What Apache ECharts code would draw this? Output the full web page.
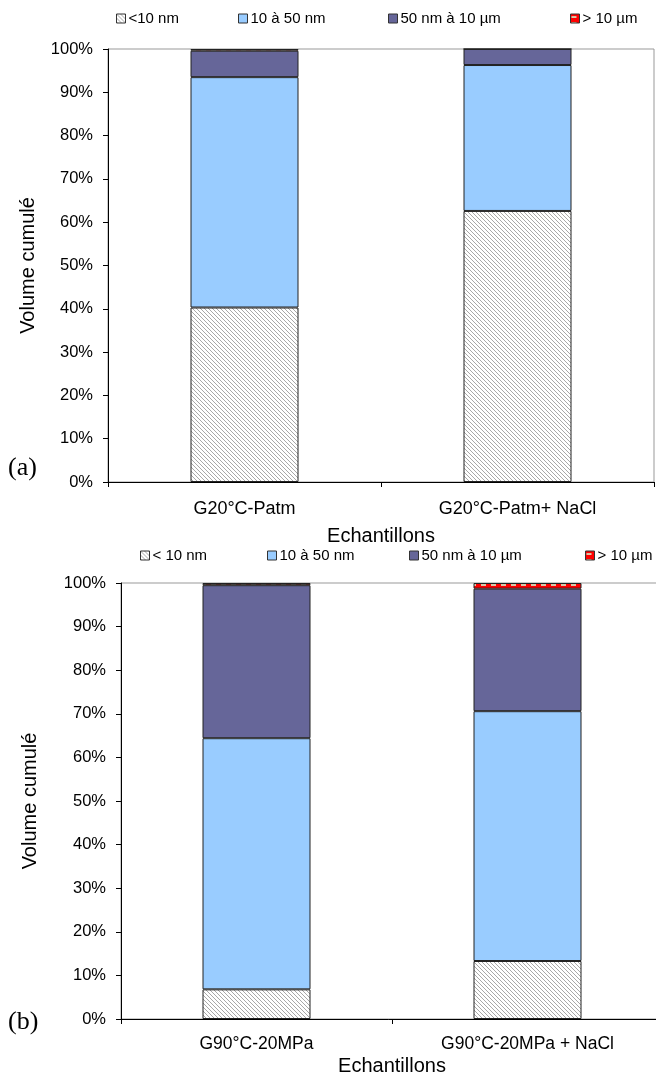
<!DOCTYPE html>
<html>
<head>
<meta charset="utf-8">
<script src="https://cdn.jsdelivr.net/npm/echarts@6/dist/echarts.min.js"></script>
<style>html,body{margin:0;padding:0;background:#fff}#c{width:656px;height:1077px}</style>
</head>
<body>
<div id="c"></div>
<script>
// ---- data ----
const catsA = ['G20°C-Patm', 'G20°C-Patm+ NaCl'];
const catsB = ['G90°C-20MPa', 'G90°C-20MPa + NaCl'];
const namesA = ['<10 nm', '10 à 50 nm', '50 nm à 10 µm', '> 10 µm'];
const namesB = ['< 10 nm', '10 à 50 nm', '50 nm à 10 µm', '> 10 µm'];
const a_lt10 = [40.3, 62.6];
const a_10_50 = [53.2, 33.7];
const a_50_10u = [6.1, 3.7];
const a_gt10u = [0.4, 0.0];
const b_lt10 = [6.8, 13.3];
const b_10_50 = [57.6, 57.3];
const b_50_10u = [35.1, 28.1];
const b_gt10u = [0.5, 1.3];
const yTicks = [0, 10, 20, 30, 40, 50, 60, 70, 80, 90, 100];

// ---- patterns ----
function hatch() {
  const s = 4, c = document.createElement('canvas');
  c.width = s; c.height = s;
  const g = c.getContext('2d');
  g.fillStyle = '#fff'; g.fillRect(0, 0, s, s);
  g.strokeStyle = '#a8a8a8'; g.lineWidth = 1;
  g.beginPath();
  g.moveTo(-1, -1); g.lineTo(s + 1, s + 1);
  g.moveTo(-1, s - 1); g.lineTo(1, s + 1);
  g.moveTo(s - 1, -1); g.lineTo(s + 1, 1);
  g.stroke();
  return c;
}
function redDash() {
  const c = document.createElement('canvas');
  c.width = 10; c.height = 6;
  const g = c.getContext('2d');
  g.fillStyle = '#ff0000'; g.fillRect(0, 0, 10, 6);
  g.fillStyle = '#d9c8a8'; g.fillRect(1, 2, 5, 2);
  return c;
}
const hatchFill = { image: hatch(), repeat: 'repeat' };
const redFill = { image: redDash(), repeat: 'repeat' };
const fills = [hatchFill, '#99ccff', '#666699', redFill];

const chart = echarts.init(document.getElementById('c'), null, { renderer: 'canvas' });
const F = 'Liberation Sans, Arial, sans-serif';

function mkSeries(names, datas, xi, stack) {
  return names.map((n, i) => ({
    name: n, type: 'bar', stack: stack, xAxisIndex: xi, yAxisIndex: xi,
    data: datas[i], barWidth: 108,
    itemStyle: { color: fills[i], borderColor: '#222', borderWidth: 1 },
    emphasis: { disabled: true }, animation: false
  }));
}

function mkLegends(names, xs, top) {
  return names.map((n, i) => ({
    data: [n], left: xs[i], top: top, padding: 0, itemWidth: 9, itemHeight: 9, itemGap: 0,
    icon: 'rect', selectedMode: false,
    textStyle: { fontFamily: F, fontSize: 15, color: '#000', padding: [0, 0, 0, -2] },
    itemStyle: { borderColor: '#333', borderWidth: 1 }
  }));
}

function yAx(gi, gap) {
  return {
    type: 'value', gridIndex: gi, min: 0, max: 100, interval: 10,
    name: 'Volume cumulé', nameLocation: 'middle', nameGap: gap,
    nameTextStyle: { fontFamily: F, fontSize: 20, color: '#000' },
    axisLine: { show: true, lineStyle: { color: '#000', width: 1 } },
    axisTick: { show: true, length: 5, lineStyle: { color: '#000' } },
    splitLine: { show: false },
    axisLabel: { fontFamily: F, fontSize: 16.5, color: '#000', margin: 15,
      formatter: v => yTicks.includes(v) ? v + '%' : '' }
  };
}
function xAx(gi, cats, gap, mar, fs) {
  return {
    type: 'category', gridIndex: gi, data: cats,
    name: 'Echantillons', nameLocation: 'middle', nameGap: gap,
    nameTextStyle: { fontFamily: F, fontSize: 20, color: '#000' },
    axisLine: { show: true, lineStyle: { color: '#000', width: 1 } },
    axisTick: { show: true, length: 5, lineStyle: { color: '#000' } },
    axisLabel: { fontFamily: F, fontSize: fs, color: '#000', margin: mar }
  };
}

chart.setOption({
  animation: false,
  backgroundColor: '#fff',
  grid: [
    { left: 108, top: 49, width: 546, height: 433, outerBoundsMode: 'none', containLabel: false,
      show: true, borderColor: '#999', borderWidth: 1 },
    { left: 121, top: 583, width: 542, height: 436, outerBoundsMode: 'none', containLabel: false,
      show: true, borderColor: '#999', borderWidth: 1 }
  ],
  legend: [].concat(
    mkLegends(namesA, [116, 238, 388, 570], 11),
    mkLegends(namesB, [140, 267, 409, 585], 548)
  ),
  xAxis: [xAx(0, catsA, 44, 18, 18), xAx(1, catsB, 37, 16, 17.5)],
  yAxis: [yAx(0, 70), yAx(1, 81)],
  series: [].concat(
    mkSeries(namesA, [a_lt10, a_10_50, a_50_10u, a_gt10u], 0, 'a'),
    mkSeries(namesB, [b_lt10, b_10_50, b_50_10u, b_gt10u], 1, 'b')
  ),
  graphic: [
    { type: 'text', left: 8, top: 455, style: { text: '(a)', font: '26px "Liberation Serif", serif', fill: '#000' } },
    { type: 'text', left: 8, top: 1009, style: { text: '(b)', font: '26px "Liberation Serif", serif', fill: '#000' } }
  ]
});
</script>
</body>
</html>
